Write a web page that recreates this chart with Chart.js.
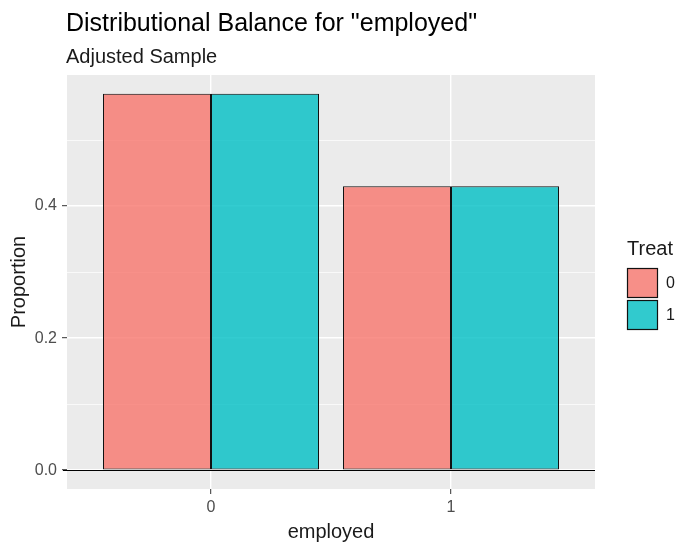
<!DOCTYPE html>
<html>
<head>
<meta charset="utf-8">
<script src="https://cdn.jsdelivr.net/npm/chart.js@4"></script>
<style>
  html, body { margin: 0; padding: 0; background: #ffffff; }
  #wrap { width: 679px; height: 545px; position: relative; }
</style>
</head>
<body>
<div id="wrap"><canvas id="c" width="679" height="545"></canvas></div>
<script>
// ---- data ----
const categories = ['0', '1'];
const treat0 = [0.57, 0.43];
const treat1 = [0.57, 0.43];
const seriesLabels = ['0', '1'];
const yMajorTicks = [0, 0.2, 0.4];
const yMinorTicks = [0.1, 0.3, 0.5];
const yTickLabels = ['0.0', '0.2', '0.4'];

const titleText = 'Distributional Balance for "employed"';
const subtitleText = 'Adjusted Sample';
const xTitle = 'employed';
const yTitle = 'Proportion';
const legendTitle = 'Treat';

const FONT = '"Liberation Sans", Arial, sans-serif';
const fills = ['rgba(248,118,109,0.8)', 'rgba(0,191,196,0.8)'];

const yMax = 0.5985, yMin = -0.0285;

function isMajor(v) { return yMajorTicks.some(t => Math.abs(t - v) < 1e-9); }

const decor = {
  id: 'decor',
  beforeDraw(chart) {
    const { ctx, chartArea: a } = chart;
    ctx.save();
    ctx.fillStyle = '#ffffff';
    ctx.fillRect(0, 0, chart.width, chart.height);
    ctx.fillStyle = '#EBEBEB';
    ctx.fillRect(a.left, a.top, a.right - a.left, a.bottom - a.top);
    ctx.restore();
  },
  afterDatasetsDraw(chart) {
    const { ctx, chartArea: a } = chart;
    const y0 = chart.scales.y.getPixelForValue(0);
    ctx.save();
    ctx.strokeStyle = '#000000';
    ctx.lineWidth = 1.2;
    ctx.beginPath();
    ctx.moveTo(a.left - 4, Math.round(y0) + 0.5);
    ctx.lineTo(a.right, Math.round(y0) + 0.5);
    ctx.stroke();
    ctx.restore();
  },
  afterDraw(chart) {
    const { ctx, chartArea: a } = chart;
    ctx.save();
    ctx.fillStyle = '#000000';
    ctx.textAlign = 'left';
    ctx.textBaseline = 'alphabetic';
    ctx.font = '25px ' + FONT;
    ctx.fillText(titleText, 66, 31);
    ctx.font = '20px ' + FONT;
    ctx.fillStyle = '#1a1a1a';
    ctx.fillText(subtitleText, 66, 63);

    // axis titles
    ctx.font = '20px ' + FONT;
    ctx.textAlign = 'center';
    ctx.fillText(xTitle, (a.left + a.right) / 2, 538);
    ctx.save();
    ctx.translate(25, (a.top + a.bottom) / 2);
    ctx.rotate(-Math.PI / 2);
    ctx.fillText(yTitle, 0, 0);
    ctx.restore();

    // legend
    ctx.textAlign = 'left';
    ctx.font = '20px ' + FONT;
    ctx.fillText(legendTitle, 627, 255);
    ctx.font = '16px ' + FONT;
    const keyX = 627, keyW = 31, keyH = 30;
    const keyY = [268, 300];
    chart.data.datasets.forEach((ds, i) => {
      ctx.fillStyle = '#F2F2F2';
      ctx.fillRect(keyX, keyY[i], keyW, keyH);
      ctx.fillStyle = ds.backgroundColor;
      ctx.fillRect(keyX, keyY[i], keyW, keyH);
      ctx.strokeStyle = '#111111';
      ctx.lineWidth = 1.2;
      ctx.strokeRect(keyX + 0.5, keyY[i] + 0.5, keyW - 1, keyH - 1);
      ctx.fillStyle = '#1a1a1a';
      ctx.textBaseline = 'middle';
      ctx.fillText(ds.label, 666, keyY[i] + keyH / 2 + 1);
    });
    ctx.restore();
  }
};

const makeData = vals => categories.map((c, i) => ({ x: i, y: vals[i] }));

new Chart(document.getElementById('c'), {
  type: 'bar',
  data: {
    datasets: [
      { label: seriesLabels[0], data: makeData(treat0), backgroundColor: fills[0],
        borderColor: '#111111', borderWidth: 1, borderSkipped: false },
      { label: seriesLabels[1], data: makeData(treat1), backgroundColor: fills[1],
        borderColor: '#111111', borderWidth: 1, borderSkipped: false }
    ]
  },
  options: {
    responsive: false,
    animation: false,
    devicePixelRatio: 1,
    categoryPercentage: 0.9,
    barPercentage: 1.0,
    layout: { padding: { top: 75, right: 84, left: 0, bottom: 0 } },
    plugins: { legend: { display: false }, tooltip: { enabled: false }, title: { display: false } },
    scales: {
      x: {
        type: 'linear',
        offset: false,
        min: -0.6, max: 1.6,
        afterBuildTicks: s => { s.ticks = categories.map((c, i) => ({ value: i })); },
        afterFit: s => { s.height = 56; },
        ticks: {
          autoSkip: false, maxRotation: 0,
          callback: (v, i) => categories[i],
          color: '#4D4D4D', font: { family: FONT, size: 16 }, padding: 4
        },
        grid: { offset: false, color: '#FFFFFF', lineWidth: 1.4, tickColor: '#333333', tickLength: 5, tickWidth: 1 },
        border: { display: false }
      },
      y: {
        type: 'linear',
        min: yMin, max: yMax,
        afterBuildTicks: s => {
          s.ticks = [...yMajorTicks, ...yMinorTicks].sort((a, b) => a - b).map(v => ({ value: v }));
        },
        afterFit: s => { s.width = 67; },
        ticks: {
          autoSkip: false,
          callback: v => { const k = yMajorTicks.findIndex(t => Math.abs(t - v) < 1e-9); return k >= 0 ? yTickLabels[k] : ''; },
          color: '#4D4D4D', font: { family: FONT, size: 16 }, padding: 5
        },
        grid: {
          color: '#FFFFFF',
          lineWidth: c => isMajor(c.tick.value) ? 1.4 : 0.7,
          tickColor: c => isMajor(c.tick.value) ? '#333333' : 'rgba(0,0,0,0)',
          tickLength: 5, tickWidth: 1
        },
        border: { display: false }
      }
    }
  },
  plugins: [decor]
});
</script>
</body>
</html>
